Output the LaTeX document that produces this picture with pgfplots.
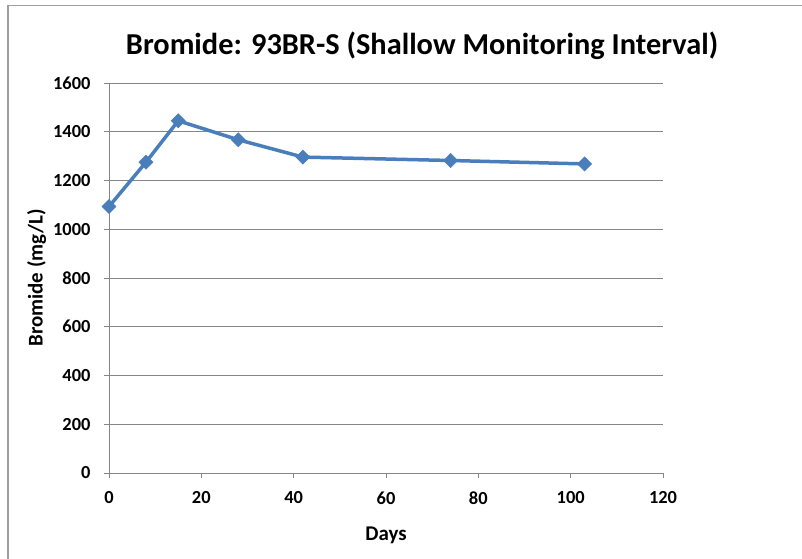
\documentclass[border=0pt]{standalone}
\usepackage{pgfplots}
\pgfplotsset{compat=1.18}
\usepackage{fontspec}
\setmainfont{Carlito}
\definecolor{serblue}{HTML}{4A7EBB}
\definecolor{gridgray}{HTML}{868686}
\begin{document}
\begin{tikzpicture}[x=1bp,y=1bp]
\useasboundingbox (-109,-86) rectangle (693,473);
\draw[gridgray!80, line width=1.5bp] (-101,-86) -- (-101,467.5) -- (693,467.5);
\begin{axis}[
  at={(0,0)}, anchor=origin,
  scale only axis, width=554bp, height=390bp,
  xmin=0, xmax=120, ymin=0, ymax=1600,
  xtick={0,20,...,120}, ytick={0,200,...,1600},
  ymajorgrids, grid style={gridgray, line width=0.8bp},
  axis x line*=bottom, axis y line*=left,
  axis line style={gridgray, line width=0.8bp, -},
  tick style={gridgray, line width=0.8bp},
  tick align=outside, major tick length=5bp,
  /pgf/number format/assume math mode=true,
  /pgf/number format/1000 sep={},
  ticklabel style={font=\fontsize{18.5}{20}\selectfont\bfseries},
  xticklabel style={yshift=-10bp},
  yticklabel style={xshift=-10bp},
  title={Bromide: 93BR-S (Shallow Monitoring Interval)},
  title style={font=\fontsize{30.5}{34}\selectfont\bfseries, xshift=36bp, yshift=14bp},
  xlabel={Days}, ylabel={Bromide (mg/L)},
  label style={font=\fontsize{21}{24}\selectfont\bfseries},
  xlabel style={yshift=-16bp},
  ylabel style={yshift=0bp},
  clip=false,
]
\addplot[serblue, line width=3.5bp, mark=square*, mark size=5bp, mark options={fill=serblue, line width=0.5bp, rotate=45}]
coordinates {(0,1093) (8,1275) (15,1445) (28,1367) (42,1296) (74,1282) (103,1268)};
\end{axis}
\end{tikzpicture}
\end{document}
